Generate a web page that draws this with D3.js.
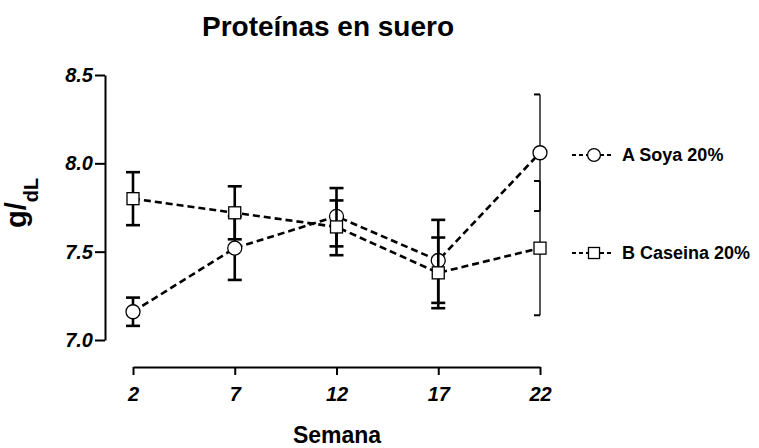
<!DOCTYPE html>
<html>
<head>
<meta charset="utf-8">
<script src="https://cdn.jsdelivr.net/npm/d3@7"></script>
<style>
  body { margin: 0; background: #fff; }
  text { font-family: "Liberation Sans", Arial, sans-serif; }
</style>
</head>
<body>
<div id="chart"></div>
<script>
// weeks on x axis
const weeks = [2, 7, 12, 17, 22]
const yTicks = [7.0, 7.5, 8.0, 8.5]

// A Soya 20% (circles)
const soyaMean = [7.16, 7.52, 7.70, 7.45, 8.06]
const soyaUpper = [7.24, 7.70, 7.86, 7.68, 8.39]
const soyaLower = [7.08, 7.34, 7.53, 7.21, 7.73]

// B Caseína 20% (squares)
const caseinaMean = [7.80, 7.72, 7.64, 7.38, 7.52]
const caseinaUpper = [7.95, 7.87, 7.79, 7.58, 7.90]
const caseinaLower = [7.65, 7.57, 7.48, 7.18, 7.14]

const seriesNames = ['A Soya 20%', 'B Caseina 20%']

const width = 759, height = 448

const svg = d3.select('#chart').append('svg')
  .attr('width', width)
  .attr('height', height)

const x = d3.scaleLinear().domain([2, 22]).range([133, 540])
const y = d3.scaleLinear().domain([7.0, 8.5]).range([340, 75])

// title
svg.append('text')
  .attr('x', 328).attr('y', 36)
  .attr('text-anchor', 'middle')
  .style('font-size', '28px').style('font-weight', 'bold')
  .text('Proteínas en suero')

// y axis
const yAxis = svg.append('g')
  .attr('transform', 'translate(105,0)')
  .call(d3.axisLeft(y).tickValues(yTicks).tickFormat(d3.format('.1f')).tickSize(10).tickSizeOuter(0).tickPadding(2))
yAxis.select('.domain').attr('stroke-width', 2)
yAxis.selectAll('.tick line').attr('stroke-width', 2)
yAxis.selectAll('.tick text')
  .style('font-size', '20px').style('font-style', 'italic').style('font-weight', 'bold')
  .attr('fill', '#000')

// x axis
const xAxis = svg.append('g')
  .attr('transform', 'translate(0,367)')
  .call(d3.axisBottom(x).tickValues(weeks).tickSize(8).tickSizeOuter(0).tickPadding(12))
xAxis.select('.domain').attr('stroke-width', 2)
xAxis.selectAll('.tick line').attr('stroke-width', 2)
xAxis.selectAll('.tick text')
  .style('font-size', '20px').style('font-style', 'italic').style('font-weight', 'bold')
  .attr('fill', '#000')

// axis titles
svg.append('text')
  .attr('x', 337).attr('y', 443)
  .attr('text-anchor', 'middle')
  .style('font-size', '23px').style('font-weight', 'bold')
  .text('Semana')

const yl = svg.append('text')
  .attr('transform', 'translate(26,228) rotate(-90)')
  .style('font-weight', 'bold')
yl.append('tspan').style('font-size', '29px').text('g/')
yl.append('tspan').attr('dy', 12).style('font-size', '20px').text('dL')

function makeData(mean, upper, lower) {
  return weeks.map((w, i) => ({ week: w, mean: mean[i], upper: upper[i], lower: lower[i] }))
}
const soya = makeData(soyaMean, soyaUpper, soyaLower)
const caseina = makeData(caseinaMean, caseinaUpper, caseinaLower)

const line = d3.line().x(d => x(d.week)).y(d => y(d.mean))

function drawSeries(data, shape) {
  const g = svg.append('g')
  g.append('path')
    .datum(data)
    .attr('d', line)
    .attr('fill', 'none')
    .attr('stroke', '#000')
    .attr('stroke-width', 2.6)
    .attr('stroke-dasharray', '7,4')

  // error bars, last week drawn thin with half caps
  data.forEach(d => {
    const last = d.week === 22
    const cx = x(d.week)
    const sw = last ? 1.3 : 2.6
    const capL = last ? 6 : 7
    const capR = last ? 0 : 7
    g.append('line')
      .attr('x1', cx).attr('x2', cx)
      .attr('y1', y(d.upper)).attr('y2', y(d.lower))
      .attr('stroke', '#000').attr('stroke-width', sw)
    ;[d.upper, d.lower].forEach(v => {
      g.append('line')
        .attr('x1', cx - capL).attr('x2', cx + capR)
        .attr('y1', y(v)).attr('y2', y(v))
        .attr('stroke', '#000').attr('stroke-width', last ? 2 : 2.6)
    })
  })

  data.forEach(d => {
    drawMarker(g, shape, x(d.week), y(d.mean), 1)
  })
}

function drawMarker(g, shape, cx, cy, s) {
  if (shape === 'circle') {
    g.append('circle')
      .attr('cx', cx).attr('cy', cy).attr('r', 7 * s)
      .attr('fill', '#fff').attr('stroke', '#000').attr('stroke-width', 1.3)
  } else {
    g.append('rect')
      .attr('x', cx - 6 * s).attr('y', cy - 6 * s)
      .attr('width', 12 * s).attr('height', 12 * s)
      .attr('fill', '#fff').attr('stroke', '#000').attr('stroke-width', 1.3)
  }
}

drawSeries(soya, 'circle')
drawSeries(caseina, 'square')

// legend
const legendY = [155, 253]
const shapes = ['circle', 'square']
seriesNames.forEach((name, i) => {
  const g = svg.append('g')
  g.append('line')
    .attr('x1', 572).attr('x2', 614)
    .attr('y1', legendY[i]).attr('y2', legendY[i])
    .attr('stroke', '#000').attr('stroke-width', 2)
    .attr('stroke-dasharray', '4,3')
  drawMarker(g, shapes[i], 594, legendY[i], 0.92)
  g.append('text')
    .attr('x', 622).attr('y', legendY[i] + 6)
    .style('font-size', '18px').style('font-weight', 'bold')
    .text(name)
})
</script>
</body>
</html>
